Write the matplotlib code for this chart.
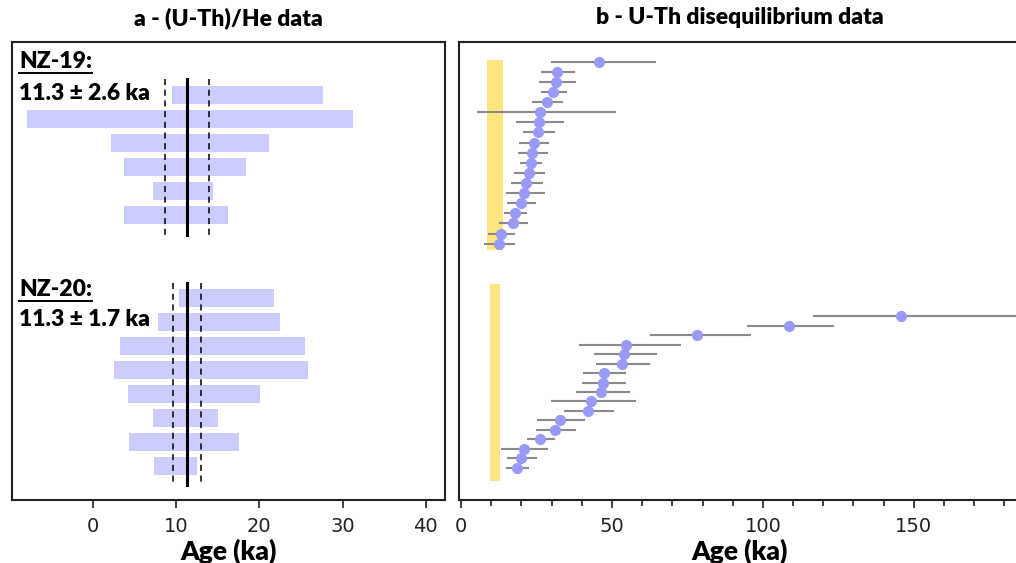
import numpy as np
import matplotlib.pyplot as plt
from matplotlib.ticker import MultipleLocator
from matplotlib.lines import Line2D

# ---- panel a: (U-Th)/He single grain age ranges (ka)
nz19_lo = [9.5, -7.9, 2.2, 3.7, 7.2, 3.7]
nz19_hi = [27.6, 31.3, 21.2, 18.4, 14.4, 16.2]
nz20_lo = [10.4, 7.8, 3.3, 2.5, 4.2, 7.2, 4.4, 7.4]
nz20_hi = [21.8, 22.5, 25.5, 25.9, 20.1, 15.0, 17.6, 12.5]

# weighted mean ages +- error (ka)
nz19_mean, nz19_err = 11.3, 2.6
nz20_mean, nz20_err = 11.3, 1.7

# ---- panel b: U-Th disequilibrium ages (ka) and error limits
nz19_uth = [45.8, 31.9, 31.6, 30.6, 28.3, 26.0, 25.8, 25.5, 24.0, 23.5,
            23.0, 22.6, 21.5, 20.9, 19.9, 17.9, 17.2, 13.2, 12.5]
nz19_uth_lo = [29.9, 26.5, 25.7, 26.5, 23.5, 5.4, 18.2, 20.4, 19.3, 18.7,
               19.5, 17.5, 16.5, 15.0, 15.3, 14.3, 12.5, 8.9, 7.7]
nz19_uth_hi = [64.6, 37.6, 38.1, 35.1, 33.6, 51.3, 34.1, 31.2, 29.1, 28.8,
               26.7, 27.9, 27.1, 27.7, 24.9, 21.8, 22.2, 17.7, 17.9]

nz20_uth = [145.6, 108.5, 78.2, 54.6, 53.9, 53.3, 47.2, 47.1, 46.4, 42.9,
            42.1, 32.7, 31.2, 26.2, 20.7, 20.0, 18.6]
nz20_uth_lo = [116.5, 94.7, 62.7, 38.9, 43.9, 44.7, 40.5, 40.2, 37.9, 29.7,
               34.1, 25.1, 24.9, 21.7, 13.3, 15.2, 15.0]
nz20_uth_hi = [192.0, 123.5, 96.1, 73.0, 65.0, 62.6, 54.5, 54.5, 55.9, 57.9,
               50.7, 40.9, 38.1, 31.2, 28.8, 25.2, 22.5]

bar_col = '#ccccff'
dot_col = '#9999f8'
err_col = '#8a8a8a'
yel_col = '#ffe57f'

bold_font = 'Lato'
tick_font = ['Liberation Sans Narrow', 'DejaVu Sans']

W, H = 1016, 563
fig = plt.figure(figsize=(W / 100, H / 100), dpi=100)

# axes placed by pixel box; y data in pixel units (top -> bottom)
ax1 = fig.add_axes([12 / W, (H - 500) / H, 433 / W, 458 / H])
ax2 = fig.add_axes([459 / W, (H - 500) / H, 562 / W, 458 / H])

for ax in (ax1, ax2):
    ax.set_ylim(500, 42)
    ax.set_yticks([])
    for s in ax.spines.values():
        s.set_linewidth(1.5)
        s.set_color('#222222')
    ax.tick_params(axis='x', which='both', direction='out', width=1.2,
                   colors='#222222', labelsize=14, pad=6)
    ax.tick_params(axis='x', which='major', length=6)
    ax.tick_params(axis='x', which='minor', length=4)

# ---------------- panel a
ax1.set_xlim(-9.7, 42.3)
ax1.xaxis.set_major_locator(MultipleLocator(10))

groups_a = [
    (nz19_lo, nz19_hi, nz19_mean, nz19_err, 95, 79, 235, 'NZ-19:', 62),
    (nz20_lo, nz20_hi, nz20_mean, nz20_err, 298, 283, 485, 'NZ-20:', 289),
]
name_texts = []
for lo, hi, m, e, y0, ly0, ly1, name, ty in groups_a:
    lo = np.array(lo)
    hi = np.array(hi)
    ys = y0 + 24 * np.arange(len(lo))
    ax1.barh(ys, hi - lo, left=lo, height=17.5, color=bar_col, zorder=1)
    ax1.plot([m, m], [ly0, ly1], color='black', lw=2.2, zorder=3)
    for v in (m - e, m + e):
        ax1.plot([v, v], [ly0, ly1], color='black', lw=1.1,
                 dashes=(4, 3), zorder=3)
    t = ax1.text(-8.8, ty, name, fontsize=16.5, fontweight='heavy',
                 family=bold_font, va='center', ha='left')
    name_texts.append(t)
    ax1.text(-8.8, ty + 31, f'{m} \u00b1 {e} ka', fontsize=16.5,
             fontweight='heavy', family=bold_font, va='center', ha='left')

ax1.set_xlabel('Age (ka)', fontsize=19, fontweight='heavy',
               family=bold_font, labelpad=2)

# ---------------- panel b
ax2.set_xlim(-0.7, 185.5)
ax2.xaxis.set_major_locator(MultipleLocator(50))
ax2.xaxis.set_minor_locator(MultipleLocator(10))

groups_b = [
    (nz19_uth, nz19_uth_lo, nz19_uth_hi, nz19_mean, nz19_err, 61.7, 10.11, 60.3, 250.3),
    (nz20_uth, nz20_uth_lo, nz20_uth_hi, nz20_mean, nz20_err, 316.3, 9.46, 284.3, 481),
]
for age, lo, hi, m, e, y0, dy, yb0, yb1 in groups_b:
    age = np.array(age)
    lo = np.array(lo)
    hi = np.array(hi)
    ys = y0 + dy * np.arange(len(age))
    ax2.fill_betweenx([yb0, yb1], m - e, m + e, color=yel_col, lw=0, zorder=1)
    ax2.errorbar(age, ys, xerr=[age - lo, hi - age], fmt='o', ms=7,
                 mfc=dot_col, mec=dot_col, ecolor=err_col, elinewidth=1.5,
                 capsize=0, zorder=3)

ax2.set_xlabel('Age (ka)', fontsize=19, fontweight='heavy',
               family=bold_font, labelpad=2)

for ax in (ax1, ax2):
    for lab in ax.get_xticklabels():
        lab.set_family(tick_font)

# titles
fig.text(228 / W, 1 - 18 / H, 'a - (U-Th)/He data', ha='center', va='center',
         fontsize=16.5, fontweight='heavy', family=bold_font)
fig.text(740 / W, 1 - 18 / H, 'b - U-Th disequilibrium data', ha='center',
         va='center', fontsize=16.5, fontweight='heavy', family=bold_font)

# underline the sample names
fig.canvas.draw()
r = fig.canvas.get_renderer()
for t in name_texts:
    bb = t.get_window_extent(renderer=r)
    y = bb.y0 - 1
    fig.add_artist(Line2D([bb.x0 / W, bb.x1 / W], [y / H, y / H],
                          color='black', lw=1.4))

fig.savefig('out.png', dpi=100)
